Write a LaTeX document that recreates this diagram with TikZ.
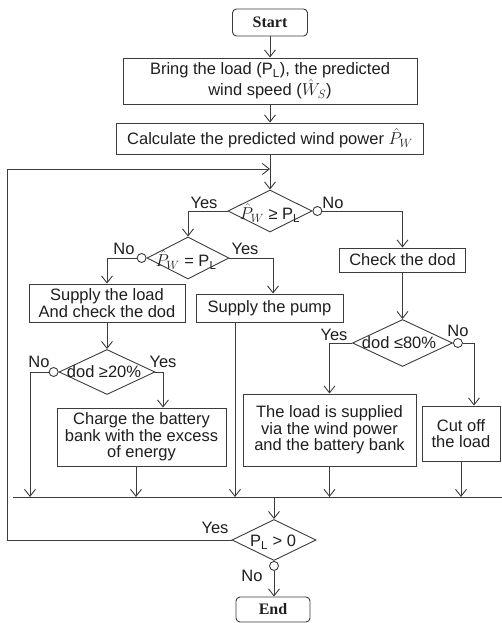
\documentclass[tikz,border=0pt]{standalone}
\usepackage{fontspec}
\setmainfont{Liberation Sans}
\newfontfamily\serifbold{Liberation Serif}
\usetikzlibrary{arrows.meta,shapes.geometric}
\definecolor{lc}{RGB}{60,60,60}
\definecolor{tc}{RGB}{30,30,30}
\newcommand\myfs{\fontsize{16.5}{16.5}\selectfont}
\newcommand\PL{P\textsubscript{L}}
\begin{document}
\begin{tikzpicture}[x=1pt,y=-1pt,
  line/.style={draw=lc, line width=0.9pt},
  arr/.style={line, -{Straight Barb[length=7pt,width=11pt]}},
  box/.style={draw=lc, line width=0.9pt, rectangle, inner sep=0pt, align=center, font=\myfs, text=tc},
  term/.style={box, rounded corners=4pt, font=\serifbold\bfseries\fontsize{16}{16}\selectfont},
  dia/.style={draw=lc, line width=0.9pt, diamond, inner sep=0pt},
  dot/.style={draw=lc, line width=0.9pt, circle, minimum size=9pt, inner sep=0pt, fill=white},
  lbl/.style={font=\myfs, text=tc, inner sep=0pt}]
\useasboundingbox (0,0) rectangle (502,623);

% boxes
\node[term, minimum width=75pt, minimum height=27pt] (start) at (270,22.5) {Start};
\node[box, minimum width=294pt, minimum height=46pt] (bring) at (270,81) {Bring the load (\PL), the predicted\\wind speed (\(\hat{W}_S\))};
\node[box, minimum width=307pt, minimum height=31pt] (calc) at (270,138.5) {Calculate the predicted wind power \(\hat{P}_W\)};
\node[box, minimum width=156pt, minimum height=38pt] (supload) at (107,303) {Supply the load\\And check the dod};
\node[box, minimum width=147pt, minimum height=28pt] (pump) at (269.5,308) {Supply the pump};
\node[box, minimum width=126pt, minimum height=24pt] (check) at (402.5,260) {Check the dod};
\node[box, minimum width=169pt, minimum height=58pt] (charge) at (141.5,437) {Charge the battery\\bank with the excess\\of energy};
\node[box, minimum width=173pt, minimum height=72pt] (loadsup) at (329.5,430) {The load is supplied\\via the wind power\\and the battery bank};
\node[box, minimum width=78pt, minimum height=55pt] (cutoff) at (461,433.5) {Cut off\\the load};
\node[term, minimum width=74pt, minimum height=25pt] (end) at (273,609.5) {End};

% decisions
\node[dia, minimum width=84pt, minimum height=42pt] (d1) at (270,211) {};
\node[lbl] (d1t) at (270,213) {\(\hat{P}_W\) ≥ \PL};
\node[dia, minimum width=82pt, minimum height=42pt] (d2) at (188,258) {};
\node[lbl] (d2t) at (186,260) {\(\hat{P}_W\) = \PL};
\node[dia, minimum width=96pt, minimum height=45pt] (d3) at (107,372) {};
\node[lbl] (d3t) at (104,372) {dod ≥20\%};
\node[dia, minimum width=100pt, minimum height=47pt] (d4) at (402.5,343) {};
\node[lbl] (d4t) at (399,343) {dod ≤80\%};
\node[dia, minimum width=84pt, minimum height=41pt] (d5) at (274,540) {};
\node[lbl] (d5t) at (273,542) {\PL\ > 0};

% circles
\node[dot, anchor=west] (c1) at (d1.east) {};
\node[dot, anchor=east] (c2) at (d2.west) {};
\node[dot, anchor=east] (c3) at (d3.west) {};
\node[dot, anchor=west] (c4) at (d4.east) {};
\node[dot, anchor=north] (c5) at (d5.south) {};

% labels
\node[lbl] (y1) at (204,203) {Yes};
\node[lbl] (n1) at (333,203) {No};
\node[lbl] (n2) at (124,249) {No};
\node[lbl] (y2) at (245,249) {Yes};
\node[lbl] (n3) at (39,362) {No};
\node[lbl] (y3) at (163,362) {Yes};
\node[lbl] (y4) at (334,335) {Yes};
\node[lbl] (n4) at (458,331) {No};
\node[lbl] (y5) at (215,528) {Yes};
\node[lbl] (n5) at (252,576) {No};

% coordinates
\coordinate (loopL) at (7,169);
\coordinate (merge) at (270,169);
\coordinate (busL) at (13,497);
\coordinate (busR) at (502,497);
\coordinate (b1) at (30,497);
\coordinate (b2) at (274,497);

% connectors
\draw[arr] (start.south) -- (start.south |- bring.north);
\draw[arr] (bring.south) -- (bring.south |- calc.north);
\draw[arr] (calc.south) -- (calc.south |- d1.north);
\draw[arr] (d5.west) -| (loopL) -- (merge);
\draw[arr] (d1.west) -| (d2.north);
\draw[arr] (c1.east) -| (check.north);
\draw[arr] (c2.west) -| (supload.north);
\draw[arr] (d2.east) -| ([xshift=3.5pt]pump.north);
\draw[arr] (check.south) -- (check.south |- d4.north);
\draw[arr] (d4.west) -| (loadsup.north);
\draw[arr] (c4.east) -| ([xshift=13pt]cutoff.north);
\draw[arr] (supload.south) -- (supload.south |- d3.north);
\draw[arr] (c3.west) -| (b1);
\draw[arr] (d3.east) -| ([xshift=21.5pt]charge.north);
\draw[line] (busL) -- (busR);
\draw[arr] ([xshift=-5.5pt]charge.south) -- ([xshift=-5.5pt]charge.south |- busL);
\draw[arr] ([xshift=-34.5pt]pump.south) -- ([xshift=-34.5pt]pump.south |- busL);
\draw[arr] (loadsup.south) -- (loadsup.south |- busL);
\draw[arr] (cutoff.south) -- (cutoff.south |- busL);
\draw[arr] (b2) -- (d5.north);
\draw[arr] (c5.south) -- (c5.south |- end.north);
\end{tikzpicture}
\end{document}
